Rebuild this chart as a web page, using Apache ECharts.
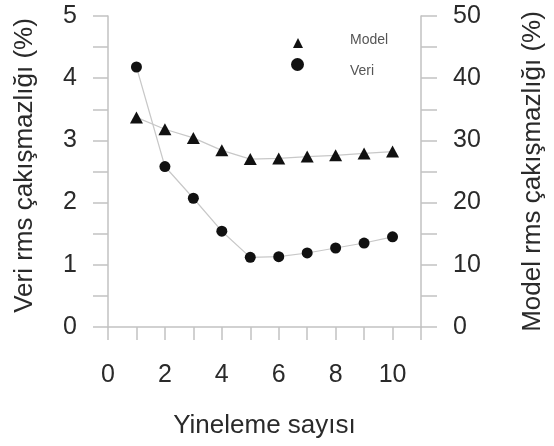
<!DOCTYPE html>
<html>
<head>
<meta charset="utf-8">
<script src="https://cdn.jsdelivr.net/npm/echarts@6/dist/echarts.min.js"></script>
<style>html,body{margin:0;padding:0;background:#fff}#c{width:554px;height:446px}</style>
</head>
<body>
<div id="c"></div>
<script>
const iterations = [1, 2, 3, 4, 5, 6, 7, 8, 9, 10];
const veriValues = [4.18, 2.58, 2.07, 1.54, 1.12, 1.13, 1.19, 1.27, 1.35, 1.45];
const modelValues = [33.7, 31.8, 30.4, 28.4, 27.0, 27.1, 27.4, 27.6, 27.9, 28.2];
const xTickLabels = [0, 2, 4, 6, 8, 10];
const leftTicks = [0, 1, 2, 3, 4, 5];
const rightTicks = [0, 10, 20, 30, 40, 50];

const FONT = "'Liberation Sans', Arial, sans-serif";
const TXT = '#2a2a2a';
const AX = '#c2c2c2';

const chart = echarts.init(document.getElementById('c'), null, {renderer: 'canvas'});
chart.setOption({
  animation: false,
  backgroundColor: '#fff',
  grid: {left: 108, right: 131, top: 16, bottom: 119, containLabel: false},
  legend: [
    {
      data: [{name: 'Model', icon: 'triangle'}],
      left: 288, top: 28, itemWidth: 10, itemHeight: 10,
      formatter: n => '{a|' + n + '}',
      textStyle: {fontFamily: FONT, fontSize: 14, color: '#555', padding: [0, 0, 0, 42],
        rich: {a: {fontFamily: FONT, fontSize: 14, color: '#555', padding: [0, 0, 6, 0]}}},
      selectedMode: false
    },
    {
      data: [{name: 'Veri', icon: 'circle'}],
      left: 286, top: 53, itemWidth: 13, itemHeight: 13,
      formatter: n => '{a|' + n + '}',
      textStyle: {fontFamily: FONT, fontSize: 14, color: '#555', padding: [0, 0, 0, 41],
        rich: {a: {fontFamily: FONT, fontSize: 14, color: '#555', padding: [14, 0, 0, 0]}}},
      selectedMode: false
    }
  ],
  xAxis: {
    type: 'value', min: 0, max: 11, interval: 1,
    name: 'Yineleme sayısı', nameLocation: 'middle', nameGap: 86,
    nameTextStyle: {fontFamily: FONT, fontSize: 26, color: TXT},
    axisLine: {show: true, lineStyle: {color: AX, width: 1.5}},
    axisTick: {show: true, length: 13, lineStyle: {color: AX, width: 1.5}},
    axisLabel: {
      margin: 36, fontFamily: FONT, fontSize: 25, color: TXT,
      formatter: v => xTickLabels.indexOf(v) >= 0 ? String(v) : ''
    },
    splitLine: {show: false}
  },
  yAxis: [
    {
      type: 'value', min: 0, max: 5, interval: 1, position: 'left',
      name: 'Veri rms çakışmazlığı (%)', nameLocation: 'middle', nameGap: 70, nameRotate: 90,
      nameTextStyle: {fontFamily: FONT, fontSize: 26, color: TXT, padding: [0, 0, 0, 12]},
      axisLine: {show: true, lineStyle: {color: AX, width: 1.5}},
      axisTick: {show: true, length: 15, lineStyle: {color: AX, width: 1.5}},
      minorTick: {show: true, splitNumber: 2, length: 15, lineStyle: {color: AX, width: 1.5}},
      axisLabel: {margin: 31, fontFamily: FONT, fontSize: 25, color: TXT,
        formatter: v => leftTicks.indexOf(v) >= 0 ? String(v) : ''},
      splitLine: {show: false}
    },
    {
      type: 'value', min: 0, max: 50, interval: 10, position: 'right',
      name: 'Model rms çakışmazlığı (%)', nameLocation: 'middle', nameGap: 99, nameRotate: 90,
      nameTextStyle: {fontFamily: FONT, fontSize: 26, color: TXT},
      axisLine: {show: true, lineStyle: {color: AX, width: 1.5}},
      axisTick: {show: true, length: 16, lineStyle: {color: AX, width: 1.5}},
      minorTick: {show: true, splitNumber: 2, length: 16, lineStyle: {color: AX, width: 1.5}},
      axisLabel: {margin: 32, fontFamily: FONT, fontSize: 25, color: TXT,
        formatter: v => rightTicks.indexOf(v) >= 0 ? String(v) : ''},
      splitLine: {show: false}
    }
  ],
  series: [
    {
      name: 'Model', type: 'line', yAxisIndex: 1,
      data: iterations.map((x, i) => [x, modelValues[i]]),
      symbol: 'triangle', symbolSize: [13, 12],
      itemStyle: {color: '#111'},
      lineStyle: {color: '#c8c8c8', width: 1.2},
      z: 3
    },
    {
      name: 'Veri', type: 'line', yAxisIndex: 0,
      data: iterations.map((x, i) => [x, veriValues[i]]),
      symbol: 'circle', symbolSize: 11,
      itemStyle: {color: '#111'},
      lineStyle: {color: '#c8c8c8', width: 1.2},
      z: 3
    }
  ]
});
</script>
</body>
</html>
